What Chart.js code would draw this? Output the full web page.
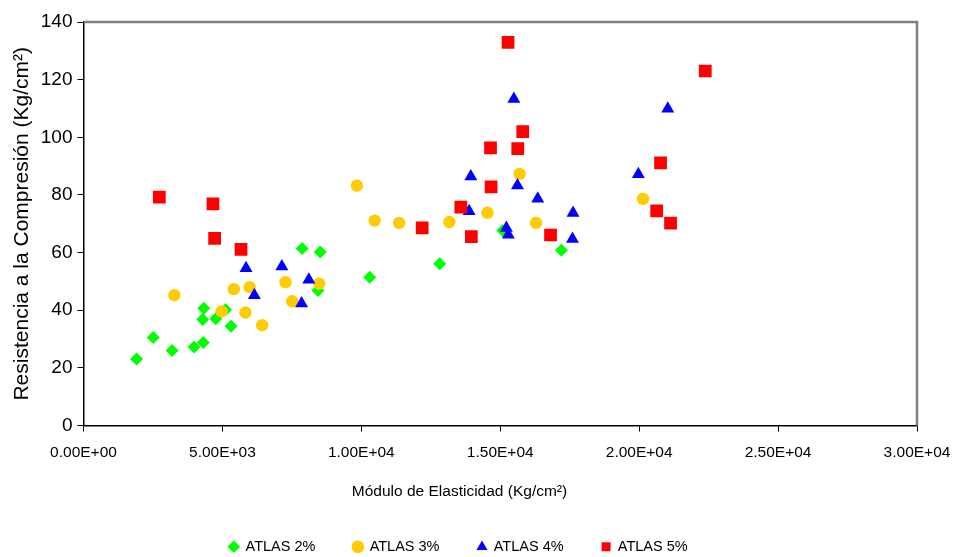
<!DOCTYPE html>
<html>
<head>
<meta charset="utf-8">
<script src="https://cdn.jsdelivr.net/npm/chart.js@4/dist/chart.umd.min.js"></script>
<style>
  html, body { margin: 0; padding: 0; background: #fff; }
  #wrap { width: 954px; height: 557px; }
</style>
</head>
<body>
<div id="wrap"><canvas id="scatter" width="954" height="557"></canvas></div>
<script>
// Módulo de elasticidad (Kg/cm2) vs. resistencia a la compresión (Kg/cm2)
const seriesNames = ['ATLAS 2%', 'ATLAS 3%', 'ATLAS 4%', 'ATLAS 5%'];

const atlas2X = [1910, 2510, 3190, 3980, 4310, 4330, 4290, 4760, 5110, 5310, 7870, 8520, 8440, 10300, 12820, 15090, 17200];
const atlas2Y = [23.1, 30.5, 26.0, 27.2, 28.8, 40.7, 36.8, 37.0, 40.2, 34.4, 61.4, 60.2, 46.8, 51.4, 56.1, 67.7, 60.8];

const atlas3X = [3270, 4970, 5410, 5830, 5980, 6430, 7270, 7510, 8480, 9840, 10480, 11360, 13170, 14540, 15700, 16290, 20140];
const atlas3Y = [45.2, 39.6, 47.3, 39.2, 48.0, 34.8, 49.7, 43.1, 49.2, 83.2, 71.1, 70.3, 70.6, 73.8, 87.3, 70.3, 78.6];

const atlas4X = [5850, 6150, 7140, 7850, 8110, 13880, 13940, 15220, 15290, 15490, 15620, 16350, 17600, 17620, 19970, 21030];
const atlas4Y = [54.6, 45.2, 55.2, 42.3, 50.6, 74.3, 86.4, 68.5, 66.2, 113.3, 83.3, 78.7, 64.7, 73.7, 87.2, 109.9];

const atlas5X = [2730, 4660, 4720, 5670, 12190, 13580, 13960, 14650, 14670, 15280, 15630, 15810, 16810, 20630, 20770, 21130, 22380];
const atlas5Y = [79.2, 76.9, 64.9, 61.1, 68.6, 75.8, 65.5, 96.3, 82.8, 132.9, 96.1, 102.0, 66.1, 74.5, 91.1, 70.2, 123.0];

const xTickLabels = ['0.00E+00', '5.00E+03', '1.00E+04', '1.50E+04', '2.00E+04', '2.50E+04', '3.00E+04'];
const yTickLabels = ['0', '20', '40', '60', '80', '100', '120', '140'];

const xTitle = 'Módulo de Elasticidad (Kg/cm²)';
const yTitle = 'Resistencia a la Compresión (Kg/cm²)';

const seriesColors = ['#00FF00', '#FFCC00', '#0000FF', '#FF0000'];
const seriesStyles = ['rectRot', 'circle', 'triangle', 'rect'];
const seriesRadius = [6.5, 6.2, 7.5, 9];

const FONT = "'Liberation Sans', Arial, sans-serif";

function toPoints(xs, ys) {
    return xs.map((x, i) => ({ x: x, y: ys[i] }));
}

const seriesData = [
    toPoints(atlas2X, atlas2Y),
    toPoints(atlas3X, atlas3Y),
    toPoints(atlas4X, atlas4Y),
    toPoints(atlas5X, atlas5Y),
];

// gray frame on the top and right sides of the plot area,
// plus the x axis caption (sits left of the plot centre)
const plotFrame = {
    id: 'plotFrame',
    afterDraw(chart) {
        const { ctx, chartArea: a } = chart;
        ctx.save();
        ctx.strokeStyle = '#808080';
        ctx.lineWidth = 2.5;
        ctx.beginPath();
        ctx.moveTo(a.left, a.top);
        ctx.lineTo(a.right, a.top);
        ctx.lineTo(a.right, a.bottom);
        ctx.stroke();

        ctx.fillStyle = '#000';
        ctx.font = '15.5px ' + FONT;
        ctx.textAlign = 'center';
        ctx.textBaseline = 'middle';
        ctx.fillText(xTitle, a.left + 376, a.bottom + 66);
        ctx.restore();
    }
};

new Chart(document.getElementById('scatter'), {
    type: 'scatter',
    data: {
        datasets: seriesNames.map((name, i) => ({
            label: name,
            data: seriesData[i],
            pointStyle: seriesStyles[i],
            pointRadius: seriesRadius[i],
            pointHoverRadius: seriesRadius[i],
            backgroundColor: seriesColors[i],
            borderColor: seriesColors[i],
            borderWidth: 0,
            order: seriesNames.length - i, // later series sit on top
        }))
    },
    options: {
        responsive: false,
        animation: false,
        devicePixelRatio: 1,
        layout: { padding: { top: 22, right: 37, bottom: -7, left: 0 } },
        scales: {
            x: {
                type: 'linear',
                min: 0,
                max: 30000,
                ticks: {
                    stepSize: 5000,
                    color: '#000',
                    font: { family: FONT, size: 15.5 },
                    padding: 12,
                    maxRotation: 0,
                    callback: (v, i) => xTickLabels[i]
                },
                grid: { drawOnChartArea: false, drawTicks: true, tickLength: 6, tickColor: '#000', tickWidth: 1 },
                border: { color: '#000', width: 1.5 },
                afterFit: (scale) => {
                    scale.height = 76;
                    scale.paddingLeft = 0;
                    scale.paddingRight = 0;
                }
            },
            y: {
                type: 'linear',
                min: 0,
                max: 140,
                ticks: {
                    stepSize: 20,
                    color: '#000',
                    font: { family: FONT, size: 19 },
                    padding: 5,
                    callback: (v, i) => yTickLabels[i]
                },
                grid: { drawOnChartArea: false, drawTicks: true, tickLength: 6, tickColor: '#000', tickWidth: 1 },
                border: { color: '#000', width: 1.5 },
                title: {
                    display: true,
                    text: yTitle,
                    color: '#000',
                    font: { family: FONT, size: 21 },
                    padding: { top: 10, bottom: 0 }
                },
                afterFit: (scale) => {
                    scale.width = 83.5;
                    scale.paddingTop = 0;
                    scale.paddingBottom = 0;
                }
            }
        },
        plugins: {
            legend: {
                position: 'bottom',
                labels: {
                    usePointStyle: true,
                    boxWidth: 9,
                    boxHeight: 9,
                    padding: 38,
                    color: '#000',
                    font: { family: FONT, size: 14.5 },
                    sort: (a, b) => a.datasetIndex - b.datasetIndex
                }
            },
            tooltip: { enabled: false }
        }
    },
    plugins: [plotFrame]
});
</script>
</body>
</html>
